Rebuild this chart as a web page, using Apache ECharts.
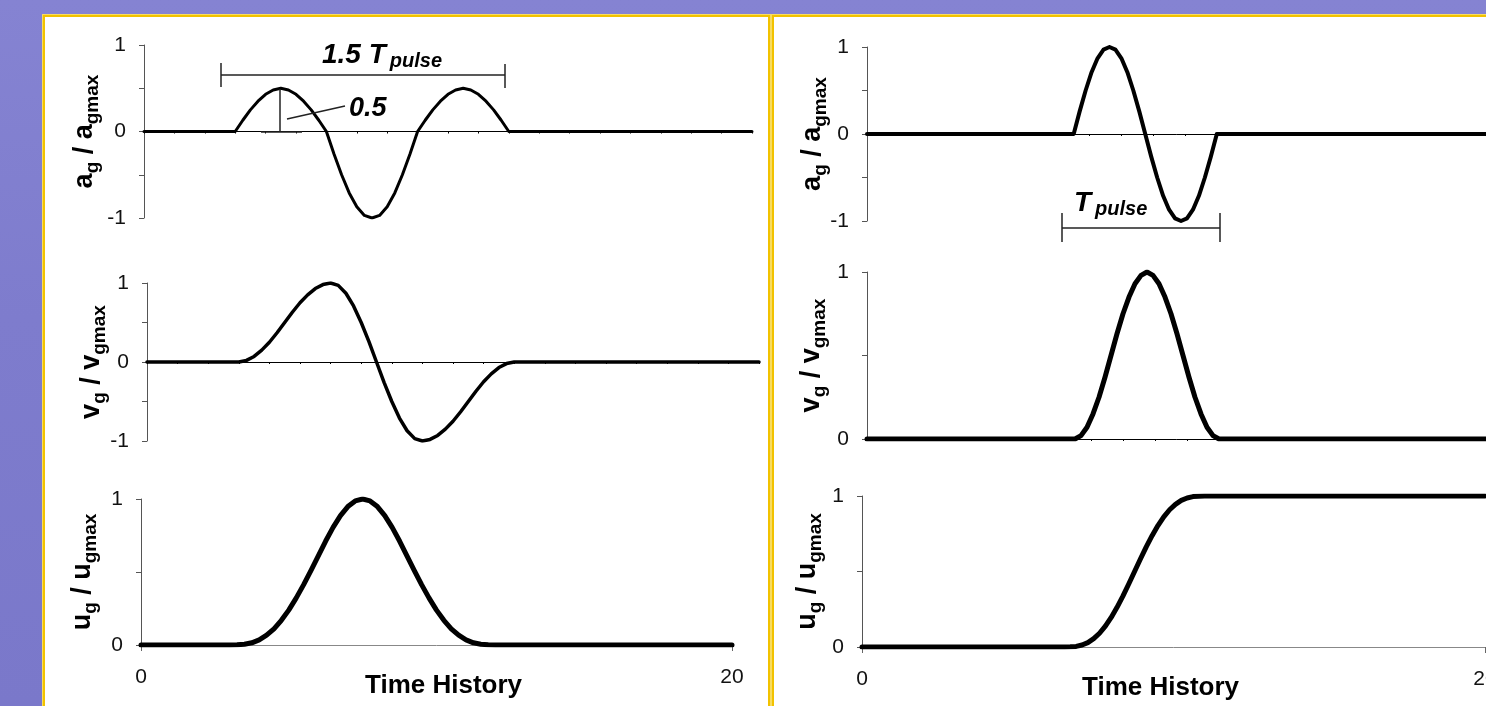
<!DOCTYPE html>
<html>
<head>
<meta charset="utf-8">
<title>Ground motion pulses</title>
<script src="https://cdn.jsdelivr.net/npm/echarts@6/dist/echarts.min.js"></script>
<style>
  html, body { margin: 0; padding: 0; width: 1486px; height: 706px; overflow: hidden; }
  body {
    position: relative;
    background: linear-gradient(180deg, #8583d2 0%, #7e7ccd 45%, #7a78ca 100%);
    font-family: "Liberation Sans", Arial, sans-serif;
  }
  .panel { position: absolute; background: #fff; border: 2px solid #f2c200; box-shadow: 0 0 0 1px #f8dc60; box-sizing: border-box; }
  #chart { position: absolute; left: 0; top: 0; width: 1486px; height: 706px; }
</style>
</head>
<body>
<div class="panel" style="left:43px; top:15px; width:727px; height:730px;"></div>
<div class="panel" style="left:772px; top:15px; width:760px; height:730px;"></div>
<div id="chart"></div>
<script>
// ---- Left panel: 1.5-cycle pulse (time samples and normalised histories) ----
const leftTime = [0, 3.00, 3.25, 3.50, 3.75, 4.00, 4.25, 4.50, 4.75, 5.00, 5.25, 5.50, 5.75,
  6.00, 6.25, 6.50, 6.75, 7.00, 7.25, 7.50, 7.75, 8.00, 8.25, 8.50, 8.75,
  9.00, 9.25, 9.50, 9.75, 10.00, 10.25, 10.50, 10.75, 11.00, 11.25, 11.50, 11.75, 12.00, 20];
const leftAccel = [0, 0, 0.13, 0.25, 0.35, 0.43, 0.48, 0.50, 0.48, 0.43, 0.35, 0.25, 0.13,
  0, -0.26, -0.50, -0.71, -0.87, -0.97, -1.00, -0.97, -0.87, -0.71, -0.50, -0.26,
  0, 0.13, 0.25, 0.35, 0.43, 0.48, 0.50, 0.48, 0.43, 0.35, 0.25, 0.13, 0, 0];
const leftVel = [0, 0, 0.02, 0.07, 0.15, 0.25, 0.37, 0.50, 0.63, 0.75, 0.85, 0.93, 0.98,
  1.00, 0.97, 0.87, 0.71, 0.50, 0.26, 0, -0.26, -0.50, -0.71, -0.87, -0.97,
  -1.00, -0.98, -0.93, -0.85, -0.75, -0.63, -0.50, -0.37, -0.25, -0.15, -0.07, -0.02, 0, 0];
const leftDisp = [0, 0, 0.001, 0.005, 0.015, 0.035, 0.067, 0.111, 0.169, 0.239, 0.321, 0.412, 0.510,
  0.611, 0.712, 0.806, 0.886, 0.948, 0.987, 1.000, 0.987, 0.948, 0.886, 0.806, 0.712,
  0.611, 0.510, 0.412, 0.321, 0.239, 0.169, 0.111, 0.067, 0.035, 0.015, 0.005, 0.001, 0, 0];

// ---- Right panel: 1-cycle pulse ----
const rightTime = [0, 6.5, 6.6875, 6.875, 7.0625, 7.25, 7.4375, 7.625, 7.8125, 8.0, 8.1875,
  8.375, 8.5625, 8.75, 8.9375, 9.125, 9.3125, 9.5, 9.6875, 9.875, 10.0625,
  10.25, 10.4375, 10.625, 10.8125, 11.0, 20];
const rightAccel = [0, 0, 0.26, 0.50, 0.71, 0.87, 0.97, 1.00, 0.97, 0.87, 0.71,
  0.50, 0.26, 0, -0.26, -0.50, -0.71, -0.87, -0.97, -1.00, -0.97,
  -0.87, -0.71, -0.50, -0.26, 0, 0];
const rightVel = [0, 0, 0.02, 0.07, 0.15, 0.25, 0.37, 0.50, 0.63, 0.75, 0.85,
  0.93, 0.98, 1.00, 0.98, 0.93, 0.85, 0.75, 0.63, 0.50, 0.37,
  0.25, 0.15, 0.07, 0.02, 0, 0];
const rightDisp = [0, 0, 0.001, 0.004, 0.013, 0.029, 0.055, 0.091, 0.138, 0.196, 0.263,
  0.337, 0.417, 0.500, 0.583, 0.663, 0.737, 0.804, 0.862, 0.909, 0.945,
  0.971, 0.987, 0.996, 0.999, 1.000, 1.000];

// Axis ranges and labels
const timeRange = [0, 20];
const timeLabelStep = 20;
const xTitle = 'Time History';

const FONT = '"Liberation Sans", Arial, sans-serif';
const AXIS_GREY = '#555';

const nameRich = {
  m: { fontSize: 27, fontWeight: 'bold', fontFamily: FONT, color: '#000', verticalAlign: 'top', lineHeight: 30 },
  s: { fontSize: 19, fontWeight: 'bold', fontFamily: FONT, color: '#000', verticalAlign: 'top', lineHeight: 19, padding: [12, 0, 0, 0] }
};
function yName(q) { return '{m|' + q + '}{s|g}{m| / ' + q + '}{s|gmax}'; }

const grids = [
  { left: 144, top: 45,  width: 608, height: 173 },
  { left: 147, top: 283, width: 612, height: 158 },
  { left: 141, top: 499, width: 591, height: 146 },
  { left: 867, top: 47,  width: 636, height: 174 },
  { left: 867, top: 272, width: 640, height: 167 },
  { left: 862, top: 496, width: 623, height: 151 }
].map(g => Object.assign({ containLabel: false, outerBoundsMode: 'none' }, g));

function yAxis(gi, min, q, gap) {
  return {
    type: 'value', gridIndex: gi, min: min, max: 1, interval: 1,
    axisLine: { show: true, lineStyle: { color: AXIS_GREY, width: 1 } },
    axisTick: { show: true, length: 5, lineStyle: { color: AXIS_GREY } },
    minorTick: { show: true, splitNumber: 2, length: 5, lineStyle: { color: AXIS_GREY } },
    splitLine: { show: false }, minorSplitLine: { show: false },
    axisLabel: { fontSize: 21, color: '#111', margin: 18, fontFamily: FONT },
    name: yName(q), nameLocation: 'middle', nameRotate: 90, nameGap: gap,
    nameMoveOverlap: false,
    nameTextStyle: { rich: nameRich }
  };
}

function xAxisInner(gi) {
  return {
    type: 'value', gridIndex: gi, min: timeRange[0], max: timeRange[1], interval: 1,
    axisLine: { show: true, onZero: true, lineStyle: { color: '#000', width: 1 } },
    axisTick: { show: true, length: 2, lineStyle: { color: '#000' } },
    axisLabel: { show: false }, splitLine: { show: false }
  };
}

function xAxisBottom(gi, namePad) {
  return {
    type: 'value', gridIndex: gi, min: timeRange[0], max: timeRange[1], interval: timeLabelStep,
    axisLine: { show: true, onZero: true, lineStyle: { color: '#888', width: 1 } },
    axisTick: { show: true, length: 6, lineStyle: { color: '#666' } },
    axisLabel: { fontSize: 21, color: '#111', margin: 22, fontFamily: FONT },
    splitLine: { show: false },
    name: xTitle, nameLocation: 'middle', nameGap: 28, nameMoveOverlap: false,
    nameTextStyle: { fontSize: 26, fontWeight: 'bold', color: '#000', fontFamily: FONT,
                     lineHeight: 26, padding: namePad }
  };
}

function lineSeries(gi, time, values, width) {
  return {
    type: 'line', xAxisIndex: gi, yAxisIndex: gi,
    data: time.map((t, i) => [t, values[i]]),
    showSymbol: false, symbol: 'none', smooth: false,
    lineStyle: { color: '#000', width: width, cap: 'round', join: 'round' },
    emphasis: { disabled: true }, animation: false, z: 5
  };
}

const annoStroke = { stroke: '#222', lineWidth: 1.5 };
function seg(x1, y1, x2, y2) { return { type: 'line', shape: { x1, y1, x2, y2 }, style: annoStroke, z: 10 }; }

const annoRich = {
  b: { fontSize: 28, fontStyle: 'italic', fontWeight: 'bold', fontFamily: FONT, fill: '#000', verticalAlign: 'top', lineHeight: 30 },
  s: { fontSize: 20, fontStyle: 'italic', fontWeight: 'bold', fontFamily: FONT, fill: '#000', verticalAlign: 'top', lineHeight: 20, padding: [10, 0, 0, 4] }
};

const chart = echarts.init(document.getElementById('chart'), null, { renderer: 'canvas' });
chart.setOption({
  backgroundColor: 'transparent',
  animation: false,
  grid: grids,
  xAxis: [xAxisInner(0), xAxisInner(1), xAxisBottom(2, [0, 0, 0, 14]),
          xAxisInner(3), xAxisInner(4), xAxisBottom(5, [0, 26, 0, 0])],
  yAxis: [yAxis(0, -1, 'a', 43), yAxis(1, -1, 'v', 39), yAxis(2, 0, 'u', 42),
          yAxis(3, -1, 'a', 38), yAxis(4, 0, 'v', 39), yAxis(5, 0, 'u', 38)],
  series: [
    lineSeries(0, leftTime, leftAccel, 3),
    lineSeries(1, leftTime, leftVel, 3.5),
    lineSeries(2, leftTime, leftDisp, 5),
    lineSeries(3, rightTime, rightAccel, 4),
    lineSeries(4, rightTime, rightVel, 5),
    lineSeries(5, rightTime, rightDisp, 5)
  ],
  graphic: [
    // 1.5 T_pulse span bar
    seg(221, 75, 505, 75), seg(221, 63, 221, 87), seg(505, 64, 505, 88),
    { type: 'text', x: 322, y: 41, z: 10, style: { text: '{b|1.5 T}{s|pulse}', rich: annoRich } },
    // 0.5 amplitude marker
    seg(280, 89, 280, 132), seg(261, 132, 302, 132), seg(287, 119, 345, 106),
    { type: 'text', x: 349, y: 95, z: 10, style: { text: '0.5', fontSize: 27, fontStyle: 'italic', fontWeight: 'bold', fontFamily: FONT, fill: '#000' } },
    // T_pulse span bar
    seg(1062, 228, 1220, 228), seg(1062, 213, 1062, 242), seg(1220, 213, 1220, 242),
    { type: 'text', x: 1074, y: 189, z: 10, style: { text: '{b|T}{s|pulse}', rich: annoRich } }
  ]
});
</script>
</body>
</html>
